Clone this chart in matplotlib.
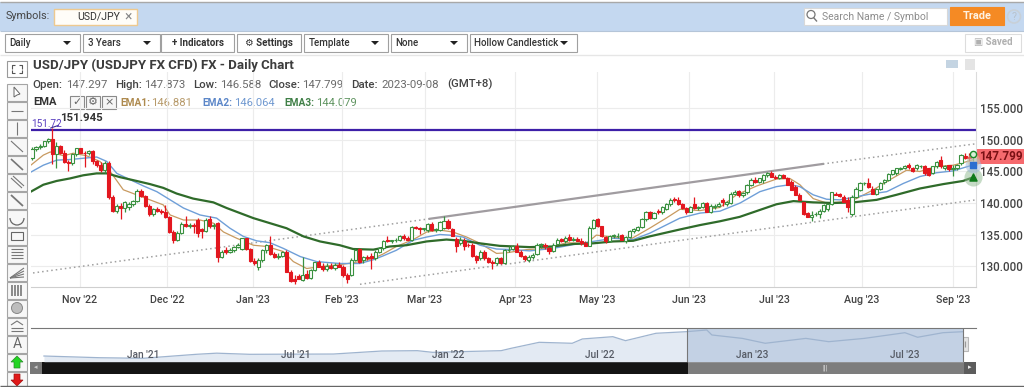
import matplotlib
matplotlib.use('Agg')
import matplotlib.pyplot as plt
from matplotlib.patches import Rectangle, Polygon, Circle

plt.rcParams['font.family'] = ['Roboto', 'DejaVu Sans']

# USD/JPY daily candles
opens = [147.2, 148.6, 148.9, 149.1, 149.8, 150.1, 147.7, 149.0, 147.9, 146.5,
         146.3, 147.7, 148.7, 148.0, 147.9, 148.2, 146.7, 146.1, 145.2, 146.3,
         141.0, 138.7, 139.6, 139.2, 139.3, 139.9, 140.3, 141.9, 141.1, 139.5,
         138.3, 139.0, 138.7, 138.6, 137.8, 135.4, 134.2, 135.3, 136.7, 136.4,
         136.5, 137.3, 135.8, 135.6, 137.4, 136.3, 136.8, 131.5, 132.6, 132.2,
         132.6, 133.0, 132.7, 134.4, 132.7, 130.8, 129.8, 131.0, 132.5, 133.3,
         131.9, 131.4, 131.6, 132.3, 129.1, 128.0, 128.4, 127.8, 128.7, 128.1,
         129.4, 130.6, 130.0, 129.5, 130.0, 129.7, 130.2, 129.9, 128.6, 128.6,
         131.0, 132.7, 130.9, 131.4, 131.6, 131.3, 132.3, 132.8, 134.1, 134.0,
         134.1, 134.1, 134.8, 134.4, 134.2, 136.2, 136.0, 135.9, 135.7, 136.7,
         135.7, 135.7, 136.0, 137.2, 135.9, 134.3, 133.6, 134.0, 133.4, 133.4,
         131.6, 131.2, 132.3, 131.2, 130.7, 130.4, 131.3, 130.5, 132.5, 132.7,
         133.2, 132.3, 131.6, 130.9, 131.4, 131.9, 133.4, 133.4, 132.9, 132.4,
         133.5, 134.3, 133.9, 134.6, 134.2, 134.3, 134.0, 133.6, 133.2, 136.0,
         137.4, 136.3, 134.6, 134.0, 134.7, 134.7, 134.9, 134.0, 134.6, 135.5,
         135.7, 136.2, 137.4, 138.5, 137.6, 138.8, 138.5, 139.1, 139.8, 140.6,
         140.5, 139.8, 139.2, 138.6, 139.9, 139.2, 139.4, 140.0, 138.6, 139.3,
         139.6, 140.4, 139.8, 140.0, 141.5, 141.9, 141.2, 141.7, 142.9, 143.6,
         143.4, 143.6, 144.4, 144.7, 144.2, 144.0, 144.4, 143.9, 143.4, 142.6,
         141.3, 140.1, 138.4, 137.8, 138.2, 138.3, 138.8, 139.0, 139.8, 141.5,
         141.4, 141.0, 140.5, 138.3, 141.0, 142.1, 143.1, 143.2, 142.3, 141.5,
         142.3, 143.3, 143.7, 144.6, 144.7, 145.4, 145.6, 146.1, 145.6, 145.5,
         145.8, 145.8, 145.5, 144.8, 145.8, 146.8, 145.6, 146.0, 145.4, 145.5,
         146.3, 147.4, 147.3, 147.297]
highs = [148.9, 149.1, 149.3, 149.9, 150.3, 151.945, 149.7, 149.2, 148.4, 146.9,
         147.9, 148.8, 148.8, 148.2, 148.4, 148.4, 146.9, 146.5, 146.6, 146.6,
         141.3, 139.9, 140.0, 140.3, 140.2, 140.5, 142.2, 142.2, 141.3, 139.8,
         139.2, 139.3, 139.1, 139.7, 138.0, 135.7, 135.5, 137.0, 137.9, 136.8,
         136.9, 137.6, 136.1, 137.6, 137.9, 136.8, 137.0, 132.5, 133.0, 132.8,
         133.2, 133.6, 134.5, 134.5, 132.9, 131.3, 131.2, 132.7, 133.5, 134.8,
         132.2, 132.0, 132.4, 132.6, 129.3, 128.5, 128.8, 131.5, 129.4, 129.6,
         130.7, 131.0, 130.5, 130.4, 130.4, 130.4, 130.7, 130.2, 128.9, 131.3,
         132.7, 132.8, 131.6, 131.7, 132.0, 132.5, 133.0, 134.2, 134.8, 134.2,
         134.4, 135.0, 135.1, 134.8, 136.4, 136.4, 136.2, 136.1, 136.9, 137.0,
         136.1, 137.1, 137.9, 137.5, 136.1, 134.6, 134.6, 134.4, 133.6, 133.6,
         131.8, 132.5, 132.5, 131.4, 130.9, 131.5, 131.5, 132.7, 133.1, 133.4,
         133.7, 132.6, 131.8, 131.7, 132.1, 133.6, 133.7, 133.7, 133.0, 133.6,
         134.4, 134.5, 134.7, 135.1, 134.6, 134.6, 134.4, 133.9, 136.4, 137.4,
         137.6, 136.4, 134.8, 134.9, 135.1, 135.2, 135.1, 134.7, 135.7, 136.0,
         136.4, 137.6, 138.7, 138.8, 138.6, 139.1, 139.5, 140.0, 140.8, 141.0,
         140.9, 140.0, 139.4, 139.6, 141.0, 139.6, 140.2, 140.2, 139.8, 139.8,
         140.1, 140.8, 140.3, 141.7, 142.0, 142.1, 141.8, 143.0, 143.9, 144.1,
         144.0, 144.6, 144.9, 145.0, 144.5, 144.6, 144.6, 144.1, 143.6, 142.8,
         141.6, 140.2, 138.6, 138.8, 138.6, 139.0, 139.8, 139.9, 141.8, 141.8,
         141.6, 141.2, 141.0, 141.2, 142.5, 143.3, 143.4, 143.9, 142.7, 142.4,
         143.3, 143.8, 144.7, 145.3, 145.6, 145.7, 146.0, 146.3, 145.7, 146.2,
         146.1, 146.0, 145.6, 145.9, 146.6, 147.4, 146.0, 146.1, 146.0, 146.2,
         147.7, 147.9, 147.9, 147.873]
lows = [146.9, 148.3, 148.6, 148.9, 149.6, 146.2, 145.5, 147.8, 146.4, 145.1,
        146.1, 147.5, 147.9, 145.7, 147.6, 146.2, 145.7, 144.9, 144.7, 140.7,
        138.5, 138.4, 137.5, 138.6, 138.9, 139.6, 140.1, 141.0, 139.3, 138.0,
        137.9, 138.6, 138.2, 137.6, 135.2, 133.6, 134.0, 135.1, 136.2, 136.0,
        135.2, 134.6, 134.5, 135.4, 136.0, 135.9, 130.6, 131.3, 131.9, 132.0,
        132.3, 132.8, 132.5, 132.6, 130.7, 130.2, 129.3, 130.6, 132.1, 131.8,
        131.2, 131.1, 131.4, 129.0, 127.5, 127.1, 127.9, 127.6, 128.0, 128.0,
        129.2, 129.8, 129.2, 129.2, 129.5, 129.3, 129.8, 128.3, 127.3, 128.4,
        130.8, 130.5, 130.4, 130.9, 129.6, 131.0, 132.1, 132.6, 133.8, 133.7,
        133.8, 133.9, 134.2, 134.1, 134.0, 135.9, 135.1, 135.5, 135.4, 135.6,
        135.4, 135.5, 135.8, 135.9, 134.7, 132.3, 133.3, 132.5, 133.0, 131.5,
        130.5, 131.0, 131.0, 130.4, 129.6, 130.2, 130.3, 130.3, 132.2, 132.5,
        132.2, 131.4, 130.8, 130.6, 131.1, 131.7, 132.9, 132.7, 131.9, 132.2,
        133.3, 133.8, 133.7, 134.0, 133.9, 133.9, 133.4, 133.1, 133.1, 135.8,
        136.2, 134.6, 133.7, 133.8, 134.5, 134.5, 134.1, 133.7, 134.4, 135.2,
        135.5, 136.0, 137.2, 137.5, 137.4, 138.3, 138.3, 138.9, 139.6, 140.2,
        139.7, 139.1, 138.3, 138.5, 139.0, 138.9, 139.2, 138.5, 138.4, 139.1,
        139.4, 139.6, 139.6, 139.9, 141.3, 141.0, 141.0, 141.5, 142.7, 143.2,
        143.2, 143.2, 144.2, 144.1, 143.8, 143.8, 144.0, 142.8, 142.0, 141.2,
        140.4, 138.1, 137.7, 137.2, 137.9, 137.6, 138.6, 138.7, 139.7, 141.2,
        141.0, 140.1, 138.6, 137.9, 140.8, 141.9, 142.8, 142.4, 141.4, 141.3,
        142.1, 143.0, 143.5, 144.4, 144.5, 145.2, 145.4, 145.4, 144.9, 145.3,
        145.6, 144.5, 144.3, 144.6, 145.6, 145.6, 145.3, 145.1, 144.3, 145.3,
        146.1, 147.0, 146.7, 146.588]
closes = [148.6, 148.9, 149.1, 149.8, 150.1, 147.7, 149.0, 147.9, 146.5, 146.3,
          147.7, 148.7, 148.0, 147.9, 148.2, 146.7, 146.1, 145.2, 146.3, 141.0,
          138.7, 139.6, 139.2, 140.1, 139.9, 140.3, 141.9, 141.1, 139.5, 138.3,
          139.0, 138.7, 138.5, 137.8, 135.4, 134.2, 135.3, 136.7, 136.4, 136.5,
          136.4, 135.3, 135.5, 137.3, 136.3, 136.5, 131.5, 132.3, 132.2, 132.6,
          133.0, 133.4, 134.4, 132.7, 130.8, 130.4, 131.0, 132.5, 133.3, 131.9,
          131.4, 131.6, 132.2, 129.1, 127.6, 127.6, 128.0, 128.6, 128.1, 129.4,
          130.6, 129.9, 129.5, 130.0, 129.7, 130.1, 129.9, 128.5, 127.9, 131.0,
          132.6, 130.7, 131.4, 131.3, 131.3, 132.3, 132.8, 134.0, 133.9, 134.1,
          134.2, 134.8, 134.5, 134.2, 136.2, 136.0, 135.9, 136.0, 136.7, 135.7,
          135.9, 137.0, 137.2, 136.0, 134.8, 133.1, 134.1, 133.2, 133.3, 131.6,
          131.0, 132.3, 131.2, 130.7, 130.4, 131.3, 130.5, 132.5, 132.6, 133.2,
          132.3, 131.6, 131.1, 131.4, 131.8, 133.4, 133.5, 133.1, 132.4, 133.4,
          134.2, 133.9, 134.5, 134.1, 134.3, 134.0, 133.6, 133.2, 136.1, 137.3,
          136.3, 134.7, 134.0, 134.7, 134.9, 134.8, 134.1, 134.6, 135.5, 135.8,
          136.2, 137.4, 138.5, 137.6, 138.4, 138.6, 139.3, 139.9, 140.5, 140.4,
          139.8, 139.2, 138.5, 139.4, 139.2, 139.4, 140.0, 138.6, 139.6, 139.6,
          139.9, 140.1, 140.1, 141.5, 141.8, 141.2, 141.6, 142.9, 143.7, 143.4,
          143.9, 144.4, 144.7, 144.2, 144.0, 144.4, 143.9, 142.9, 142.1, 141.3,
          140.5, 138.2, 137.8, 138.1, 138.3, 138.7, 139.7, 139.8, 141.7, 141.3,
          141.1, 140.2, 139.3, 141.0, 142.3, 143.2, 143.2, 142.6, 141.5, 142.3,
          143.2, 143.7, 144.6, 145.2, 145.5, 145.6, 145.9, 145.7, 145.1, 146.0,
          145.9, 144.7, 144.4, 145.8, 146.5, 145.8, 145.9, 145.4, 145.6, 146.0,
          147.6, 147.2, 147.1, 147.799]

ema1_x = [-0.3, 2.8, 4.5, 7.8, 10.2, 13.5, 16.8, 19.7, 22.6, 25.9, 29.2, 32.5, 34.2, 37.5, 41.6, 44.9,
          47.4, 50.7, 54.8, 58.1, 62.2, 64.7, 68, 71.3, 76.2, 81.2, 84.5, 86.9, 90.2, 94.4, 97.7, 101,
          104.2, 107.6, 110.9, 115, 117.5, 122.4, 127.4, 132.3, 137.3, 139.7, 143.9, 148, 152.9, 157, 160.4,
          165.4, 170.3, 174.4, 179.4, 184.3, 187.6, 190.1, 193.4, 196.7, 200.8, 204.1, 208.3, 212.4, 216.5,
          219.8, 223.9, 228.1, 232.2, 233]
ema1 = [146, 147.6, 148.1, 147.5, 147.9, 147.5, 146.6, 144.7, 142.1, 141.3, 140.5, 139.7, 138.1, 137.3, 137.3, 136.8,
        135.4, 134.4, 133.3, 133.1, 132.3, 130.7, 129.6, 129.9, 130.2, 130.7, 131.2, 131.9, 133.1, 134.2, 135.4, 135.7,
        135.4, 134.6, 133.6, 132, 132.1, 132.6, 132.8, 133.7, 133.6, 134.9, 134.6, 134.2, 136, 137.6, 139,
        138.8, 139.3, 141.3, 142.7, 143.8, 143.9, 142.9, 140.7, 140, 140.2, 140.7, 142.1, 143.7, 145.2,
        145, 145.8, 146, 146.7, 146.881]
ema2_x = [-0.3, 2.8, 6.1, 9.4, 12.7, 16, 18.5, 21, 24.3, 27.6, 30.9, 34.2, 37.5, 41.6, 45.7, 49, 52.3, 55.6, 58.9,
          62.2, 66.4, 70.5, 76.2, 81.2, 84.5, 86.9, 90.2, 94.4, 97.7, 101, 103.4, 106.7, 110.9, 115, 119.1, 123.2,
          129, 134, 138.9, 143.9, 148.8, 152.9, 160.4, 165.4, 170.3, 175.3, 180.2, 184.3, 187.6, 190.1, 193.4,
          196.7, 200, 203.3, 207.4, 211.6, 215.7, 219.8, 223.9, 228.1, 232.2, 233]
ema2 = [144.9, 146, 146.8, 146.9, 147.1, 147.3, 146.6, 144.7, 143.7, 142.7, 141.8, 140.5, 139.2, 138.1, 137.6, 136, 134.7, 134, 133.7,
        132.8, 131.5, 130.7, 130.4, 130.4, 131, 131.6, 132.5, 134.1, 134.6, 135, 134.9, 134.6, 133.3, 132.7, 132.6, 132.4,
        132.8, 133.4, 133.9, 134.4, 134.2, 135.2, 137.6, 138.4, 138.7, 140, 141.8, 142.6, 142.9, 142.6, 141.3,
        140.6, 140.5, 140.9, 141.4, 141.8, 143.1, 144.2, 144.8, 145.1, 145.9, 146.064]
ema3_x = [-0.3, 2.8, 6.1, 9.4, 12.7, 16, 18.5, 21.8, 25.9, 29.2, 32.5, 35.8, 39.9, 44.9, 48.2, 51.5, 54.8, 58.9, 63,
          67.2, 71.3, 76.2, 79.5, 84.5, 88.6, 92.7, 97.7, 102.6, 106.7, 110.9, 115.8, 123.2, 129, 134, 138.9, 143.9,
          148.8, 152.9, 160.4, 165.4, 170.3, 175.2, 180.2, 184.3, 188.5, 193.4, 198.4, 203.3, 209.1, 214, 219.8,
          225.6, 230.5, 233]
ema3 = [141.8, 142.9, 143.5, 143.9, 144.4, 144.7, 144.7, 144.1, 143.5, 143, 142.4, 141.5, 140.7, 140.1, 139.2, 138.4, 137.6, 136.8, 136,
        134.7, 133.9, 133.3, 132.7, 132.6, 133.1, 133.3, 133.9, 134.2, 134, 133.6, 133.2, 133, 133.1, 133.5, 133.6, 133.9,
        134, 134.7, 135.8, 136.5, 137.1, 137.8, 138.9, 139.8, 140.3, 140.1, 140, 140.1, 140.5, 141.3, 142.3,
        143, 143.5, 144.079]

month_pos = [11.8, 33.4, 54.7, 76.7, 97.2, 119.6, 139.9, 162.6, 183.7, 205.4, 228]
month_labels = ["Nov '22", "Dec '22", "Jan '23", "Feb '23", "Mar '23", "Apr '23",
                "May '23", "Jun '23", "Jul '23", "Aug '23", "Sep '23"]
price_ticks = [130, 135, 140, 145, 150, 155]

# trend channel
channel_x = [0.25, 98.5, 195.8, 233.7]
channel_hi = [128.9, 137.5, 146.2, 149.4]
channel_lo_x = [81.2, 233.7]
channel_lo = [127.1, 140.5]
resistance = 151.6

# navigator, months counted from Jan '21
nav_m = [-3.9, -1.7, 0, 2.1, 2.9, 4.2, 7.5, 9.4, 10.8, 11.4, 14.1, 14.5, 15.6, 16.9, 17.3, 18.5, 19, 20.2,
         21.4, 22.2, 22.4, 23.6, 24.5, 26.1, 27, 28.4, 30, 30.5, 31.5, 32.3]
nav_close = [105, 102, 101, 108, 110, 108, 108.5, 113.8, 114.4, 111.5, 114.4, 118.6, 129.1, 127.4, 135, 139, 132, 145,
             147.8, 150.8, 142, 136, 127.4, 136, 130.2, 136, 146, 138, 146, 147.8]
nav_ticks = [0, 6, 12, 18, 24, 30]
nav_labels = ["Jan '21", "Jul '21", "Jan '22", "Jul '22", "Jan '23", "Jul '23"]

tool_rows = [84, 102, 120, 138, 156, 174, 192, 210, 228, 246, 264, 282, 300, 318, 336, 354, 372]

fig = plt.figure(figsize=(10.24, 3.87), dpi=100)
W, H = 1024, 387

# page furniture is drawn in pixel coordinates
ui = fig.add_axes([0, 0, 1, 1])
ui.set_xlim(0, W)
ui.set_ylim(H, 0)
ui.axis('off')


def box(x0, y0, x1, y1, fc='white', ec='#9a9a9a', lw=0.8, z=2):
    ui.add_patch(Rectangle((x0, y0), x1 - x0, y1 - y0, facecolor=fc, edgecolor=ec, linewidth=lw, zorder=z))


def label(x, y, s, size=8, color='#333333', weight='normal', ha='left', z=5):
    ui.text(x, y, s, fontsize=size, color=color, fontweight=weight, ha=ha, va='center', zorder=z)


def line(xs, ys, color='#777777', lw=0.8, z=4):
    ui.plot(xs, ys, color=color, lw=lw, zorder=z, solid_capstyle='butt')


box(0, 2, W, 31, fc='#c4d8f0', ec='none')
line([0, W], [1.5, 1.5], color='#a8a8a8', lw=1)
line([0, W], [31, 31], color='#b5c5d8', lw=0.8)
label(6, 16, 'Symbols:', 7.8, '#444444')
box(54, 8.5, 137, 25, fc='#fffdf8', ec='#eec98f', lw=1)
label(77, 16.5, 'USD/JPY', 7.6, '#333333')
label(128, 16.5, '\u00d7', 10, '#888888', ha='center')
box(804, 8, 947, 25, fc='white', ec='#d8d8d8')
ui.add_patch(Circle((811, 14.5), 4, fill=False, ec='#777777', lw=0.9, zorder=4))
line([813.5, 817], [17.5, 21.5], color='#777777', lw=1)
label(822, 16.5, 'Search Name / Symbol', 7.5, '#8c8c8c')
box(950, 7, 1004, 25, fc='#f58a24', ec='#f58a24')
label(977, 16, 'Trade', 7.9, '#fff2e2', 'bold', ha='center')
ui.add_patch(Circle((1014, 16.5), 6.5, fill=False, ec='#c8d0d8', lw=1.2, zorder=4))
label(1014, 16.5, '?', 7.5, '#b8c2cc', ha='center')

# toolbar
buttons = [(5, 80, 'Daily', True), (83, 160, '3 Years', True), (161, 234, '+ Indicators', False),
           (237, 301, '\u2699 Settings', False), (304, 388, 'Template', True), (391, 467, 'None', True),
           (470, 577, 'Hollow Candlestick', True)]
for x0, x1, txt, drop in buttons:
    box(x0, 33.5, x1, 52, ec='#a0a0a0')
    if drop:
        label(x0 + 4.5, 43, txt, 7.0, '#333333', 'medium')
        ui.add_patch(Polygon([(x1 - 17, 41), (x1 - 9, 41), (x1 - 13, 45)], fc='#222222', ec='none', zorder=5))
    else:
        label((x0 + x1) / 2, 42.5, txt, 7.0, '#333333', 'bold', ha='center')
box(965, 33.5, 1021, 52, ec='#dddddd')
label(993, 42.5, '\u25a3 Saved', 7.0, '#b0b0b0', 'bold', ha='center')
line([0, W], [55, 55], color='#e6e6e6', lw=1)

# header text over the chart
label(33, 65, 'USD/JPY (USDJPY FX CFD) FX - Daily Chart', 9.5, '#3c3c3c', 'bold')
for x, s, c, w in [(32, 'Open:', '#444444', 'medium'), (66, '147.297', '#6a6a6a', 'normal'),
                   (115, 'High:', '#444444', 'medium'), (144, '147.873', '#6a6a6a', 'normal'),
                   (193, 'Low:', '#444444', 'medium'), (220, '146.588', '#6a6a6a', 'normal'),
                   (268, 'Close:', '#444444', 'medium'), (302, '147.799', '#6a6a6a', 'normal'),
                   (351, 'Date:', '#444444', 'medium'), (381, '2023-09-08', '#6a6a6a', 'normal'),
                   (447, '(GMT+8)', '#444444', 'medium')]:
    label(x, 84.5, s, 8.2, c, w)
label(33, 102, 'EMA', 8, '#333333', 'bold')
for x0, glyph in [(70, '\u2713'), (86, '\u2699'), (102, '\u00d7')]:
    box(x0, 96, x0 + 13.5, 108.5, fc='#f6f6f6', ec='#8a8a8a')
    ui.text(x0 + 6.7, 102, glyph, fontsize=8, color='#666666', ha='center', va='center', zorder=5,
            family=['DejaVu Sans'])
for x, s, c, w, sz in [(120, 'EMA1:', '#ae8a4e', 'bold', 7.3), (151, '146.881', '#b79a6a', 'normal', 8.1),
                       (202, 'EMA2:', '#5b86c8', 'bold', 7.3), (234, '146.064', '#6f98d0', 'normal', 8.1),
                       (284, 'EMA3:', '#3f7f46', 'bold', 7.3), (316, '144.079', '#5f9460', 'normal', 8.1)]:
    label(x, 102.5, s, sz, c, w)
box(952 - 6, 60, 952 + 6, 68, fc='#c4d4e2', ec='none')
box(970 - 5, 59, 970 + 5, 70, fc='#e4e4e4', ec='none')

# left tool column
box(7, 61, 27, 77, ec='#9a9a9a')
for xs, ys in [([12, 12, 15], [69, 65, 65]), ([19, 22, 22], [65, 65, 69]), ([12, 12, 15], [70, 73, 73]), ([19, 22, 22], [73, 73, 70])]:
    line(xs, ys, color='#555555')
for y in tool_rows:
    box(7, y, 27, y + 16.5, fc='#f7f7f7', ec='#a5a5a5')
ui.add_patch(Polygon([(14, 87), (14, 97), (17, 95), (20, 94)], fc='white', ec='#666666', lw=0.7, zorder=4))
line([11, 23], [110.5, 110.5])
line([17, 17], [122, 135])
line([11, 23], [141, 152])
line([11, 23], [159, 170], lw=1.2)
line([11, 22], [178, 188], lw=0.8)
line([13, 24], [176, 186], lw=0.8)
line([11, 23], [195, 206], lw=1.3)
ui.add_patch(matplotlib.patches.Arc((17, 218), 14, 14, theta1=0, theta2=180, ec='#666666', lw=0.9, zorder=4))
box(11, 232, 23, 240, fc='none', ec='#666666', z=4)
for y in range(249, 261, 3):
    line([11, 23], [y, y])
for tip in [268, 271, 274, 277]:
    line([10, 24], [278, tip], lw=0.8)
for x in (12, 15, 18, 21):
    line([x, x], [285, 296], lw=1.2)
ui.add_patch(Circle((17, 308), 5.5, fc='#bdbdbd', ec='#888888', lw=0.7, zorder=4))
line([11, 23], [328, 328])
line([11, 23], [331, 331])
line([11, 17, 23], [325, 321, 325])
ui.text(17, 344, 'A', fontsize=10, color='#666666', ha='center', va='center', zorder=5)
ui.add_patch(Polygon([(17, 356), (23, 362), (20, 362), (20, 368), (14, 368), (14, 362), (11, 362)], fc='#22d622', ec='#2b8a2b', lw=0.5, zorder=5))
ui.add_patch(Polygon([(17, 386), (23, 380), (20, 380), (20, 374), (14, 374), (14, 380), (11, 380)], fc='#e01818', ec='#a01010', lw=0.5, zorder=5))
line([0, W], [386.3, 386.3], color='#666666', lw=1, z=6)

# main chart, 31..976 by 72..287 in pixels
left, right, top, bottom = 31, 976, 72, 287
ax = fig.add_axes([left / W, 1 - bottom / H, (right - left) / W, (bottom - top) / H])
ax.patch.set_alpha(0)
ax.set_xlim(-0.25, 233.7)
ax.set_ylim(126.67, 160.79)
ax.set_xticks(month_pos, month_labels)
ax.set_yticks(price_ticks, ['%.3f' % p for p in price_ticks])
ax.yaxis.tick_right()
ax.tick_params(length=0, labelsize=7.7, labelcolor='#444444', pad=6)
for t in ax.get_xticklabels() + ax.get_yticklabels():
    t.set_fontweight('medium')
ax.tick_params(axis='y', pad=3, labelsize=8.3)
ax.grid(True, color='#ececec', lw=0.8)
ax.set_axisbelow(True)
for s in ('top', 'left'):
    ax.spines[s].set_visible(False)
ax.spines['bottom'].set_color('#cfcfcf')
ax.spines['right'].set_color('#dcdcdc')

ax.axhline(resistance, color='#3d1fa8', lw=1.6, zorder=2)
ax.plot(channel_x[:2], channel_hi[:2], color='#a0a0a0', lw=1.1, ls=(0, (1, 2)), zorder=2)
ax.plot(channel_x[1:3], channel_hi[1:3], color='#a09ca0', lw=1.6, zorder=2)
ax.plot(channel_x[2:], channel_hi[2:], color='#a0a0a0', lw=1.1, ls=(0, (1, 2)), zorder=2)
ax.plot(channel_lo_x, channel_lo, color='#a0a0a0', lw=1.1, ls=(0, (1, 2)), zorder=2)

ax.plot(ema1_x, ema1, color='#c89a60', lw=0.9, zorder=3)
ax.plot(ema2_x, ema2, color='#6f9fd8', lw=1.0, zorder=3)
ax.plot(ema3_x, ema3, color='#2f6b2a', lw=1.6, zorder=3)

for i in range(len(closes)):
    up = closes[i] >= opens[i]
    col = '#3a9140' if up else '#e3171f'
    ax.vlines(i, lows[i], highs[i], color=col, lw=0.9, zorder=4)
    ax.bar(i, abs(closes[i] - opens[i]), bottom=min(opens[i], closes[i]), width=0.78,
           facecolor='white' if up else col, edgecolor=col, linewidth=0.8, zorder=5)

# last value markers with their halos
ax.scatter([233], [ema3[-1]], s=170, color='#8fb98f', alpha=0.5, linewidths=0, zorder=6, clip_on=False)
ax.scatter([233], [ema2[-1]], s=130, color='#9db8dc', alpha=0.5, linewidths=0, zorder=6, clip_on=False)
ax.scatter([233], [ema1[-1]], s=90, color='#cfc49a', alpha=0.5, linewidths=0, zorder=6, clip_on=False)
ax.scatter([233], [ema3[-1]], s=26, marker='^', color='#0f7a1a', zorder=7, clip_on=False)
ax.scatter([233], [ema2[-1]], s=24, marker='s', color='#2a6fd0', zorder=7, clip_on=False)
ax.scatter([233], [closes[-1]], s=20, marker='o', facecolor='#d8efd8', edgecolor='#1d8a2a', zorder=7, clip_on=False)

ax.annotate('151.945', xy=(4.6, 151.9), xytext=(7, 153.55), fontsize=8.2, fontweight='bold', color='#333333',
            va='center', arrowprops=dict(arrowstyle='-', color='#3d2f90', lw=0.8, shrinkA=0, shrinkB=0), zorder=8)
ax.text(-0.1, 152.5, '151.72', fontsize=7.2, color='#5a3fc0', va='center', zorder=8)

box(976, 149, 1024, 164, fc='#f66a6e', ec='none', z=6)
label(979, 157, '147.799', 8.4, '#7a1014', 'bold', z=7)

# navigator strip
nav_l, nav_r, nav_t, nav_b = 31, 976, 327.7, 361.7
nav = fig.add_axes([nav_l / W, 1 - nav_b / H, (nav_r - nav_l) / W, (nav_b - nav_t) / H])
nav.patch.set_alpha(0)
nav.set_xlim(-4.41, 32.8)
nav.set_ylim(95, 154.8)
nav.set_yticks([])
nav.set_xticks([])
for s in ('left', 'right', 'bottom'):
    nav.spines[s].set_visible(False)
nav.spines['top'].set_color('#777777')
nav.fill_between(nav_m, nav_close, 95, color='#e3eaf3', lw=0)
nav.plot(nav_m, nav_close, color='#9fb4cf', lw=0.9)
nav.axvspan(21.44, 32.3, color='#c3d1e4', lw=0, zorder=1)
nav.plot([21.44, 21.44], [95, 154.8], color='#777777', lw=0.8, zorder=3)
nav.plot([32.3, 32.3], [95, 154.8], color='#777777', lw=0.8, zorder=3)
for m, txt in zip(nav_ticks, nav_labels):
    nav.text(m, 107, txt, fontsize=7.3, fontweight='medium', color='#555a64', ha='center', va='center', zorder=4)

box(30, 361.7, 976, 374, fc='#141414', ec='none')
box(687.5, 361.7, 976, 374, fc='#7d7d7d', ec='none', z=3)
box(964, 361.7, 976, 374, fc='#5c5c5c', ec='none', z=3)
box(30, 362, 42, 373.5, fc='#777777', ec='none', z=3)
label(36, 368, '\u25c2', 5, '#cccccc', ha='center')
label(970, 368, '\u25b8', 5, '#eeeeee', ha='center')
label(825, 368, '|||', 5.5, '#e8e8e8', ha='center')
for x in (687.5, 963.7):
    box(x - 4, 337, x + 4, 351, fc='#e4e4e4', ec='#b8b8b8', z=8)
    line([x - 1, x - 1], [341, 347], color='#999999', z=9)
    line([x + 1, x + 1], [341, 347], color='#999999', z=9)

fig.savefig('out.png', dpi=100)
